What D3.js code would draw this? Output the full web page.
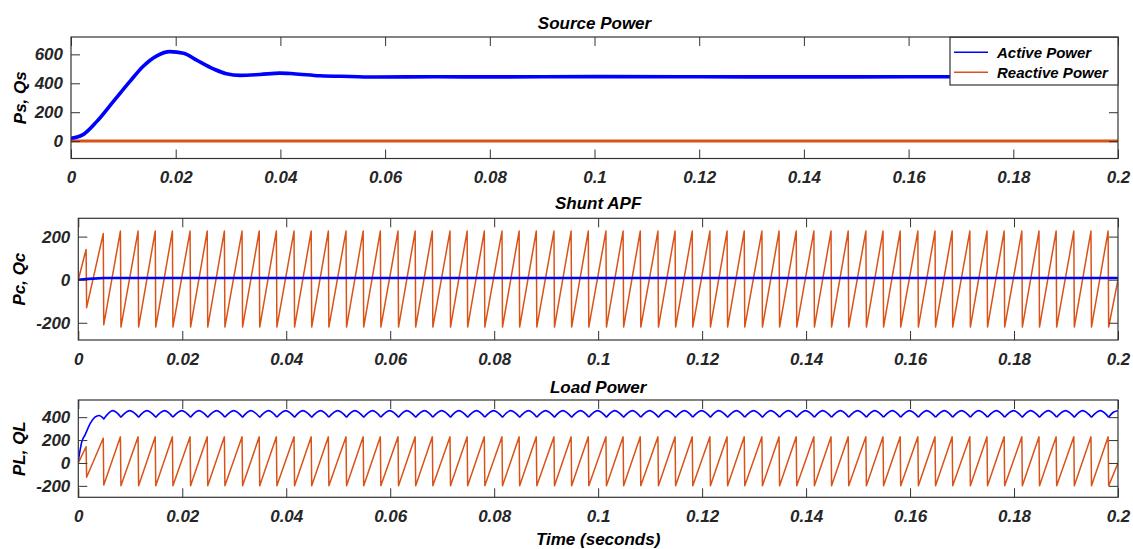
<!DOCTYPE html>
<html>
<head>
<meta charset="utf-8">
<script src="https://cdn.jsdelivr.net/npm/d3@7"></script>
<style>
  html, body { margin: 0; padding: 0; background: #fff; }
  svg { display: block; }
  text { font-family: "Liberation Sans", Arial, sans-serif; font-weight: bold; font-style: italic; }
</style>
</head>
<body>
<svg id="chart" width="1133" height="549"></svg>
<script>
// ---------- data ----------
const xTicks = [0, 0.02, 0.04, 0.06, 0.08, 0.1, 0.12, 0.14, 0.16, 0.18, 0.2];
const xTickLabels = ["0", "0.02", "0.04", "0.06", "0.08", "0.1", "0.12", "0.14", "0.16", "0.18", "0.2"];
const sourceYTicks = [0, 200, 400, 600];
const shuntYTicks = [-200, 0, 200];
const loadYTicks = [-200, 0, 200, 400];
const seriesNames = ["Active Power", "Reactive Power"];

// Source active power Ps (W) and reactive power Qs (VAr)
const psTime  = [0, 0.0023, 0.0049, 0.0081, 0.0113, 0.0138, 0.0164, 0.0189, 0.0215, 0.0240,
                 0.0272, 0.0297, 0.0323, 0.0361, 0.0399, 0.0425, 0.0476, 0.0533, 0.0584,
                 0.07, 0.08, 0.1, 0.12, 0.14, 0.16, 0.18, 0.2];
const psValue = [20, 45, 135, 275, 415, 518, 590, 619, 608, 560,
                 500, 466, 455, 461, 470, 466, 452, 447, 443,
                 445, 444, 446, 445, 444, 445, 445, 445];
const qsTime  = [0, 0.05, 0.1, 0.15, 0.2];
const qsValue = [1, 1, 1, 1, 1];

// Shunt APF active power Pc
const pcTime  = [0, 0.002, 0.005, 0.1, 0.2];
const pcValue = [0, 4, 8, 8, 8];

// Sawtooth vertices (peak, then fall to trough) shared by Qc and QL
const toothTime = [0,
  0.0015, 0.0016, 0.0048, 0.0049, 0.0081, 0.0082,
  0.0115, 0.0116, 0.0148, 0.0149, 0.0181, 0.0182,
  0.0215, 0.0216, 0.0248, 0.0249, 0.0281, 0.0282,
  0.0315, 0.0316, 0.0348, 0.0349, 0.0381, 0.0382,
  0.0415, 0.0416, 0.0448, 0.0449, 0.0481, 0.0482,
  0.0515, 0.0516, 0.0548, 0.0549, 0.0581, 0.0582,
  0.0615, 0.0616, 0.0648, 0.0649, 0.0681, 0.0682,
  0.0715, 0.0716, 0.0748, 0.0749, 0.0781, 0.0782,
  0.0815, 0.0816, 0.0848, 0.0849, 0.0881, 0.0882,
  0.0915, 0.0916, 0.0948, 0.0949, 0.0981, 0.0982,
  0.1015, 0.1016, 0.1048, 0.1049, 0.1081, 0.1082,
  0.1115, 0.1116, 0.1148, 0.1149, 0.1181, 0.1182,
  0.1215, 0.1216, 0.1248, 0.1249, 0.1281, 0.1282,
  0.1315, 0.1316, 0.1348, 0.1349, 0.1381, 0.1382,
  0.1415, 0.1416, 0.1448, 0.1449, 0.1481, 0.1482,
  0.1515, 0.1516, 0.1548, 0.1549, 0.1581, 0.1582,
  0.1615, 0.1616, 0.1648, 0.1649, 0.1681, 0.1682,
  0.1715, 0.1716, 0.1748, 0.1749, 0.1781, 0.1782,
  0.1815, 0.1816, 0.1848, 0.1849, 0.1881, 0.1882,
  0.1915, 0.1916, 0.1948, 0.1949, 0.1981, 0.1982,
  0.2];

// Shunt APF reactive power Qc
const qcValue = [0,
  140, -130, 214, -209, 226, -220,
  226, -220, 226, -220, 226, -220,
  226, -220, 226, -220, 226, -220,
  226, -220, 226, -220, 226, -220,
  226, -220, 226, -220, 226, -220,
  226, -220, 226, -220, 226, -220,
  226, -220, 226, -220, 226, -220,
  226, -220, 226, -220, 226, -220,
  226, -220, 226, -220, 226, -220,
  226, -220, 226, -220, 226, -220,
  226, -220, 226, -220, 226, -220,
  226, -220, 226, -220, 226, -220,
  226, -220, 226, -220, 226, -220,
  226, -220, 226, -220, 226, -220,
  226, -220, 226, -220, 226, -220,
  226, -220, 226, -220, 226, -220,
  226, -220, 226, -220, 226, -220,
  226, -220, 226, -220, 226, -220,
  226, -220, 226, -220, 226, -220,
  226, -220, 226, -220, 226, -220,
  0];

// Load reactive power QL
const qlValue = [0,
  142, -125, 216, -192, 228, -200,
  228, -200, 228, -200, 228, -200,
  228, -200, 228, -200, 228, -200,
  228, -200, 228, -200, 228, -200,
  228, -200, 228, -200, 228, -200,
  228, -200, 228, -200, 228, -200,
  228, -200, 228, -200, 228, -200,
  228, -200, 228, -200, 228, -200,
  228, -200, 228, -200, 228, -200,
  228, -200, 228, -200, 228, -200,
  228, -200, 228, -200, 228, -200,
  228, -200, 228, -200, 228, -200,
  228, -200, 228, -200, 228, -200,
  228, -200, 228, -200, 228, -200,
  228, -200, 228, -200, 228, -200,
  228, -200, 228, -200, 228, -200,
  228, -200, 228, -200, 228, -200,
  228, -200, 228, -200, 228, -200,
  228, -200, 228, -200, 228, -200,
  228, -200, 228, -200, 228, -200,
  0];

// Load active power PL: start-up rise, then rippled arcs between cusps
const plRiseTime  = [0, 0.0007, 0.0013, 0.0023, 0.0032, 0.0040, 0.0049];
const plRiseValue = [20, 190, 245, 345, 400, 415, 385];
const plCuspTime = [0.0049, 0.0082,
  0.0116, 0.0149, 0.0182, 0.0216, 0.0249, 0.0282, 0.0316, 0.0349, 0.0382,
  0.0416, 0.0449, 0.0482, 0.0516, 0.0549, 0.0582, 0.0616, 0.0649, 0.0682,
  0.0716, 0.0749, 0.0782, 0.0816, 0.0849, 0.0882, 0.0916, 0.0949, 0.0982,
  0.1016, 0.1049, 0.1082, 0.1116, 0.1149, 0.1182, 0.1216, 0.1249, 0.1282,
  0.1316, 0.1349, 0.1382, 0.1416, 0.1449, 0.1482, 0.1516, 0.1549, 0.1582,
  0.1616, 0.1649, 0.1682, 0.1716, 0.1749, 0.1782, 0.1816, 0.1849, 0.1882,
  0.1916, 0.1949, 0.1982, 0.2];
const plCuspValue = [385, 400,
  400, 400, 400, 400, 400, 400, 400, 400, 400,
  400, 400, 400, 400, 400, 400, 400, 400, 400,
  400, 400, 400, 400, 400, 400, 400, 400, 400,
  400, 400, 400, 400, 400, 400, 400, 400, 400,
  400, 400, 400, 400, 400, 400, 400, 400, 400,
  400, 400, 400, 400, 400, 400, 400, 400, 400,
  400, 400, 400, 456];
const plCrestTime = [0.0066, 0.0099,
  0.0132, 0.0166, 0.0199, 0.0232, 0.0266, 0.0299, 0.0332, 0.0366, 0.0399,
  0.0432, 0.0466, 0.0499, 0.0532, 0.0566, 0.0599, 0.0632, 0.0666, 0.0699,
  0.0732, 0.0766, 0.0799, 0.0832, 0.0866, 0.0899, 0.0932, 0.0966, 0.0999,
  0.1032, 0.1066, 0.1099, 0.1132, 0.1166, 0.1199, 0.1232, 0.1266, 0.1299,
  0.1332, 0.1366, 0.1399, 0.1432, 0.1466, 0.1499, 0.1532, 0.1566, 0.1599,
  0.1632, 0.1666, 0.1699, 0.1732, 0.1766, 0.1799, 0.1832, 0.1866, 0.1899,
  0.1932, 0.1966, 0.1991];
const plCrestValue = [457, 457,
  457, 457, 457, 457, 457, 457, 457, 457, 457,
  457, 457, 457, 457, 457, 457, 457, 457, 457,
  457, 457, 457, 457, 457, 457, 457, 457, 457,
  457, 457, 457, 457, 457, 457, 457, 457, 457,
  457, 457, 457, 457, 457, 457, 457, 457, 457,
  457, 457, 457, 457, 457, 457, 457, 457, 457,
  457, 457, 443];

// ---------- drawing ----------
const BLUE = "#0000ff";
const ORANGE = "#d95319";
const AXIS = "#333333";
const svg = d3.select("#chart");

function zip(ts, vs) { return ts.map((t, i) => [t, vs[i]]); }

function panel(cfg) {
  const x = d3.scaleLinear().domain([0, 0.2]).range([cfg.left, cfg.right]);
  const y = d3.scaleLinear().domain(cfg.yDomain).range([cfg.bottom, cfg.top]);
  const g = svg.append("g");

  const clipId = "clip-" + cfg.id;
  svg.append("clipPath").attr("id", clipId)
    .append("rect")
    .attr("x", cfg.left).attr("y", cfg.top)
    .attr("width", cfg.right - cfg.left).attr("height", cfg.bottom - cfg.top);

  const plot = g.append("g").attr("clip-path", `url(#${clipId})`);

  // axes: inward ticks on all four sides, labels on bottom and left
  const tickLen = 9;
  const styleAxis = sel => {
    sel.select(".domain").remove();
    sel.selectAll(".tick line").attr("stroke", AXIS).attr("stroke-width", 1);
    sel.selectAll("text")
      .attr("fill", "#262626")
      .style("font-family", "'Liberation Sans', Arial, sans-serif")
      .style("font-weight", "bold").style("font-style", "italic")
      .style("font-size", "17px");
  };
  g.append("g").attr("transform", `translate(0,${cfg.bottom})`)
    .call(d3.axisBottom(x).tickValues(xTicks).tickSize(-tickLen).tickPadding(12.5)
      .tickFormat((d, i) => xTickLabels[i]))
    .call(styleAxis);
  g.append("g").attr("transform", `translate(0,${cfg.top})`)
    .call(d3.axisTop(x).tickValues(xTicks).tickSize(-tickLen).tickFormat(""))
    .call(styleAxis);
  g.append("g").attr("transform", `translate(${cfg.left},0)`)
    .call(d3.axisLeft(y).tickValues(cfg.yTicks).tickSize(-tickLen).tickPadding(8)
      .tickFormat(d => String(d)))
    .call(styleAxis);
  g.append("g").attr("transform", `translate(${cfg.right},0)`)
    .call(d3.axisRight(y).tickValues(cfg.yTicks).tickSize(-tickLen).tickFormat(""))
    .call(styleAxis);

  g.append("rect")
    .attr("x", cfg.left).attr("y", cfg.top)
    .attr("width", cfg.right - cfg.left).attr("height", cfg.bottom - cfg.top)
    .attr("fill", "none").attr("stroke", AXIS).attr("stroke-width", 1.2);

  // title and y label
  g.append("text")
    .attr("x", (cfg.left + cfg.right) / 2).attr("y", cfg.titleY)
    .attr("text-anchor", "middle").attr("font-size", 17).attr("fill", "#000")
    .text(cfg.title);
  g.append("text")
    .attr("transform", `translate(${cfg.ylabelX},${(cfg.top + cfg.bottom) / 2}) rotate(-90)`)
    .attr("text-anchor", "middle").attr("font-size", 17).attr("fill", "#000")
    .text(cfg.ylabel);

  return { x, y, g, plot };
}

function drawLine(p, pts, color, width, curve) {
  const line = d3.line().x(d => p.x(d[0])).y(d => p.y(d[1])).curve(curve || d3.curveLinear);
  p.plot.append("path").attr("d", line(pts))
    .attr("fill", "none").attr("stroke", color).attr("stroke-width", width)
    .attr("stroke-linejoin", "round").attr("stroke-linecap", "round");
}

// Source Power
const pS = panel({ id: "src", left: 71, right: 1118, top: 37, bottom: 158.5,
  yDomain: [-120, 720], yTicks: sourceYTicks, title: "Source Power", titleY: 29,
  ylabel: "Ps, Qs", ylabelX: 26 });
drawLine(pS, zip(qsTime, qsValue), ORANGE, 3.2);
drawLine(pS, zip(psTime, psValue), BLUE, 3.6, d3.curveMonotoneX);

// legend
const lg = pS.g.append("g");
lg.append("rect").attr("x", 950).attr("y", 37.3).attr("width", 168).attr("height", 47.7)
  .attr("fill", "#fff").attr("stroke", AXIS).attr("stroke-width", 1.2);
[BLUE, ORANGE].forEach((c, i) => {
  const yy = 52.3 + i * 20;
  lg.append("line").attr("x1", 954).attr("x2", 988).attr("y1", yy).attr("y2", yy)
    .attr("stroke", c).attr("stroke-width", 1.5);
  lg.append("text").attr("x", 997).attr("y", yy + 5.5)
    .attr("font-size", 15).attr("fill", "#000").text(seriesNames[i]);
});

// Shunt APF
const pC = panel({ id: "apf", left: 78.3, right: 1118, top: 218.3, bottom: 340,
  yDomain: [-280, 285], yTicks: shuntYTicks, title: "Shunt APF", titleY: 209,
  ylabel: "Pc, Qc", ylabelX: 25 });
drawLine(pC, zip(toothTime, qcValue), ORANGE, 1.5);
drawLine(pC, zip(pcTime, pcValue), BLUE, 2.6);

// Load Power
const pL = panel({ id: "load", left: 78.3, right: 1118, top: 400, bottom: 497.3,
  yDomain: [-300, 550], yTicks: loadYTicks, title: "Load Power", titleY: 393,
  ylabel: "PL, QL", ylabelX: 25 });
drawLine(pL, zip(toothTime, qlValue), ORANGE, 1.5);
drawLine(pL, zip(plRiseTime, plRiseValue), BLUE, 1.6, d3.curveMonotoneX);
{
  const arc = d3.line().x(d => pL.x(d[0])).y(d => pL.y(d[1])).curve(d3.curveNatural);
  const d = plCrestTime.map((t, k) => arc([
    [plCuspTime[k], plCuspValue[k]],
    [t, plCrestValue[k]],
    [plCuspTime[k + 1], plCuspValue[k + 1]]
  ])).join("");
  pL.plot.append("path").attr("d", d)
    .attr("fill", "none").attr("stroke", BLUE).attr("stroke-width", 1.6)
    .attr("stroke-linejoin", "round");
}

// x-axis label
svg.append("text")
  .attr("x", (78.3 + 1118) / 2).attr("y", 545)
  .attr("text-anchor", "middle").attr("font-size", 17).attr("fill", "#000")
  .text("Time (seconds)");
</script>
</body>
</html>
